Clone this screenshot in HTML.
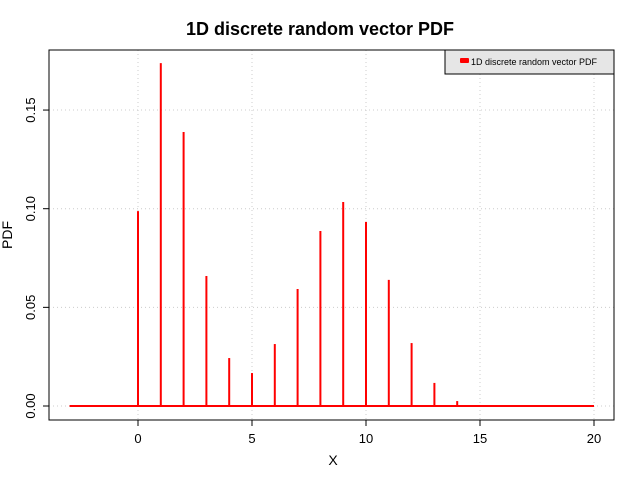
<!DOCTYPE html>
<html><head><meta charset="utf-8"><style>
body{margin:0;background:#fff;}
svg{display:block;font-family:"Liberation Sans",sans-serif;}
</style></head><body>
<svg id="chart" width="641" height="481">
<text x="320" y="35" text-anchor="middle" font-size="18" font-weight="bold">1D discrete random vector PDF</text>
<g id="grid"></g>
<g id="bars"></g>
<rect x="49" y="50" width="565" height="370" fill="none" stroke="#000" stroke-width="1"/>
<g id="axes"></g>
<text x="333" y="465" text-anchor="middle" font-size="14">X</text>
<text transform="translate(12,235) rotate(-90)" text-anchor="middle" font-size="14">PDF</text>
<g>
<rect x="445" y="50" width="169" height="24" fill="#e6e6e6" stroke="#000"/>
<rect x="460" y="58" width="9" height="5" fill="#f00" rx="1"/>
<text x="471" y="65" font-size="9">1D discrete random vector PDF</text>
</g>
</svg>
<script>
const xs=[0,1,2,3,4,5,6,7,8,9,10,11,12,13,14];
const pdf=[0.0988,0.1738,0.1389,0.0659,0.0243,0.0167,0.0314,0.0593,0.0887,0.1034,0.0933,0.0639,0.0319,0.0117,0.0025];
const xTicks=[0,5,10,15,20];
const yTicks=[0,0.05,0.10,0.15];
const yTickLabels=["0.00","0.05","0.10","0.15"];
const xRange=[-3,20];
const NS="http://www.w3.org/2000/svg";
const X=v=>138+v*22.8, Y=v=>406-v*1973;
function mk(t,a,p){const e=document.createElementNS(NS,t);for(const k in a)e.setAttribute(k,a[k]);p.appendChild(e);return e;}
const grid=document.getElementById('grid'),bars=document.getElementById('bars'),axes=document.getElementById('axes');
xTicks.forEach(v=>{
 const g=mk('line',{x1:X(v),x2:X(v),y1:50,y2:420,stroke:'#ccc','stroke-dasharray':'1,3'},grid);
 
 
 const t=mk('line',{x1:X(v),x2:X(v),y1:420,y2:426,stroke:'#000'},axes);
 
 
 const l=mk('text',{x:X(v),y:443,'text-anchor':'middle','font-size':'13'},axes);
 l.textContent=v;
 
 
});
yTicks.forEach((v,i)=>{
 const g=mk('line',{x1:49,x2:614,y1:Y(v),y2:Y(v),stroke:'#ccc','stroke-dasharray':'1,3'},grid);
 
 
 const t=mk('line',{x1:43,x2:49,y1:Y(v),y2:Y(v),stroke:'#000'},axes);
 
 
 const l=mk('text',{transform:`translate(35,${Y(v)}) rotate(-90)`,'text-anchor':'middle','font-size':'13'},axes);
 l.textContent=yTickLabels[i];
 
 
});
const base=mk('line',{x1:X(xRange[0]),x2:X(xRange[1]),y1:Y(0),y2:Y(0),stroke:'#f00','stroke-width':2},bars);


xs.forEach((x,i)=>{
 const b=mk('line',{x1:X(x),x2:X(x),y1:Y(0),y2:Y(pdf[i]),stroke:'#f00','stroke-width':2},bars);
 
 
});
</script>
</body></html>
